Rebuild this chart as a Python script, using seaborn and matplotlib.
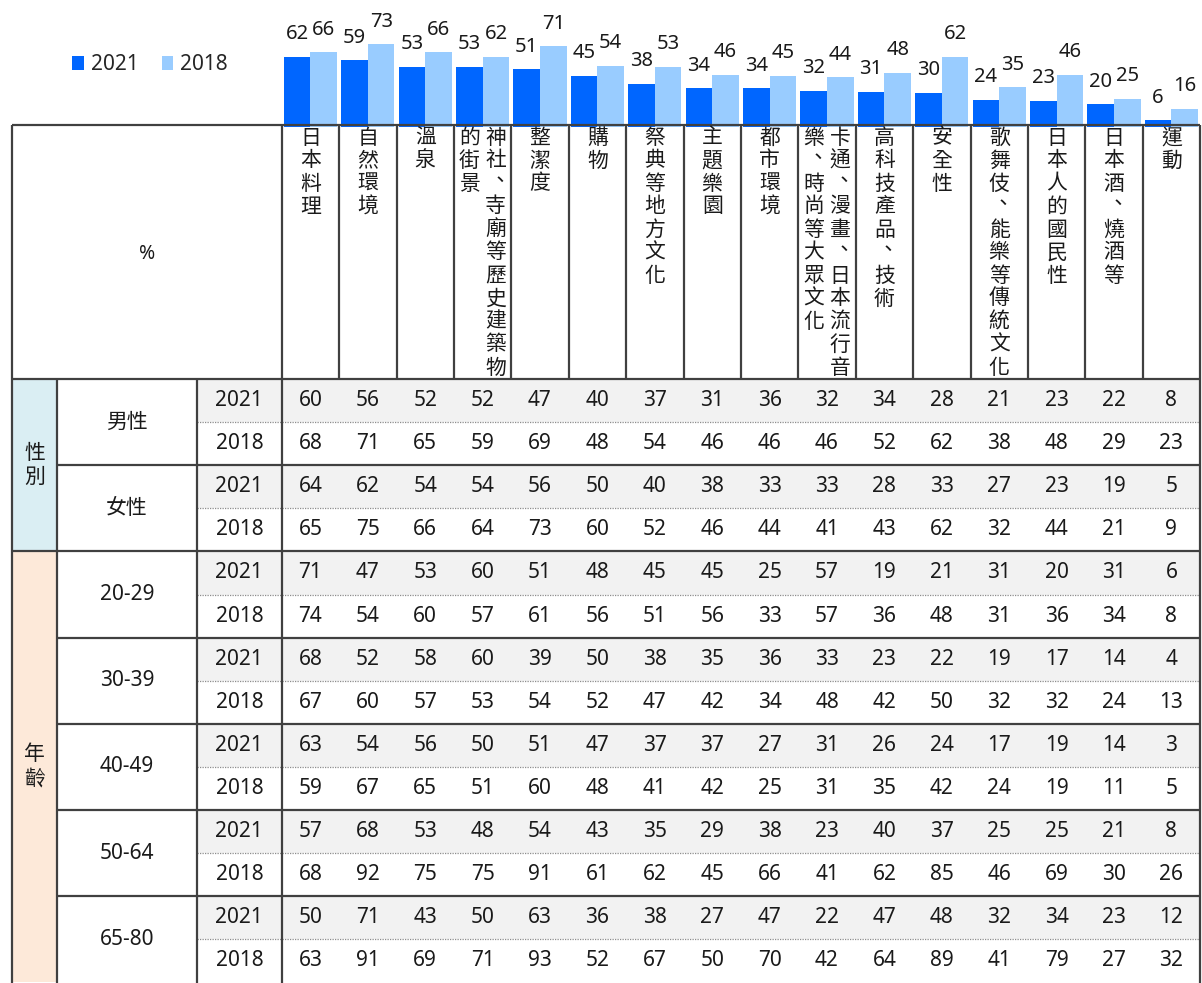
import numpy as np
import pandas as pd
import matplotlib.pyplot as plt
from matplotlib.colors import ListedColormap
from matplotlib.patches import Rectangle
import seaborn as sns

sns.set_style('white')
plt.rcParams['font.family'] = ['Noto Sans', 'Noto Sans CJK TC']
plt.rcParams['font.weight'] = 500

# items (overall %, top bar chart)
items = ['日本料理', '自然環境', '溫泉', '神社、寺廟等歷史建築物的街景', '整潔度', '購物',
         '祭典等地方文化', '主題樂園', '都市環境', '卡通、漫畫、日本流行音樂、時尚等大眾文化',
         '高科技產品、技術', '安全性', '歌舞伎、能樂等傳統文化', '日本人的國民性',
         '日本酒、燒酒等', '運動']
# the same headers as printed: vertical columns, first one on the right
header_lines = [['日本料理'], ['自然環境'], ['溫泉'], ['神社、寺廟等歷史建築物', '的街景'],
                ['整潔度'], ['購物'], ['祭典等地方文化'], ['主題樂園'], ['都市環境'],
                ['卡通、漫畫、日本流行音', '樂、時尚等大眾文化'], ['高科技產品、技術'], ['安全性'],
                ['歌舞伎、能樂等傳統文化'], ['日本人的國民性'], ['日本酒、燒酒等'], ['運動']]
all_2021 = [62, 59, 53, 53, 51, 45, 38, 34, 34, 32, 31, 30, 24, 23, 20, 6]
all_2018 = [66, 73, 66, 62, 71, 54, 53, 46, 45, 44, 48, 62, 35, 46, 25, 16]

sections = ['性別', '年齡']
section_sizes = [2, 5]
groups = ['男性', '女性', '20-29', '30-39', '40-49', '50-64', '65-80']
years = ['2021', '2018']

male_2021 = [60, 56, 52, 52, 47, 40, 37, 31, 36, 32, 34, 28, 21, 23, 22, 8]
male_2018 = [68, 71, 65, 59, 69, 48, 54, 46, 46, 46, 52, 62, 38, 48, 29, 23]
female_2021 = [64, 62, 54, 54, 56, 50, 40, 38, 33, 33, 28, 33, 27, 23, 19, 5]
female_2018 = [65, 75, 66, 64, 73, 60, 52, 46, 44, 41, 43, 62, 32, 44, 21, 9]
age20_2021 = [71, 47, 53, 60, 51, 48, 45, 45, 25, 57, 19, 21, 31, 20, 31, 6]
age20_2018 = [74, 54, 60, 57, 61, 56, 51, 56, 33, 57, 36, 48, 31, 36, 34, 8]
age30_2021 = [68, 52, 58, 60, 39, 50, 38, 35, 36, 33, 23, 22, 19, 17, 14, 4]
age30_2018 = [67, 60, 57, 53, 54, 52, 47, 42, 34, 48, 42, 50, 32, 32, 24, 13]
age40_2021 = [63, 54, 56, 50, 51, 47, 37, 37, 27, 31, 26, 24, 17, 19, 14, 3]
age40_2018 = [59, 67, 65, 51, 60, 48, 41, 42, 25, 31, 35, 42, 24, 19, 11, 5]
age50_2021 = [57, 68, 53, 48, 54, 43, 35, 29, 38, 23, 40, 37, 25, 25, 21, 8]
age50_2018 = [68, 92, 75, 75, 91, 61, 62, 45, 66, 41, 62, 85, 46, 69, 30, 26]
age65_2021 = [50, 71, 43, 50, 63, 36, 38, 27, 47, 22, 47, 48, 32, 34, 23, 12]
age65_2018 = [63, 91, 69, 71, 93, 52, 67, 50, 70, 42, 64, 89, 41, 79, 27, 32]

table_rows = [male_2021, male_2018, female_2021, female_2018,
              age20_2021, age20_2018, age30_2021, age30_2018, age40_2021, age40_2018,
              age50_2021, age50_2018, age65_2021, age65_2018]

blue = '#0066FF'
light_blue = '#99CCFF'
grey_row = '#F2F2F2'
line_c = '#404040'
text_c = '#1a1a1a'

# layout in pixels
W, H = 1202, 983
col0, colw = 281.7, 57.4
row0, rowh = 379.0, 43.1
base = 127.0
head_top = 124.5
x_sec, x_grp, x_year = 12, 57, 197
right = col0 + len(items) * colw
bottom = row0 + len(table_rows) * rowh

fig = plt.figure(figsize=(W / 100, H / 100), dpi=100)


def px_axes(x0, y0, x1, y1):
    return fig.add_axes([x0 / W, 1 - y1 / H, (x1 - x0) / W, (y1 - y0) / H])


# table body: grey 2021 rows, white 2018 rows, numbers as annotations
ax_tab = px_axes(col0, row0, right, bottom)
row_years = years * len(groups)
shade = np.array([[years.index(y)] * len(items) for y in row_years])
sns.heatmap(shade, cmap=ListedColormap([grey_row, '#FFFFFF']), vmin=0, vmax=1,
            annot=np.array(table_rows), fmt='d', cbar=False,
            xticklabels=False, yticklabels=False,
            annot_kws={'fontsize': 15, 'color': text_c}, ax=ax_tab)

# bar chart on top of the header
ax_bar = px_axes(col0, 0, right, base)
bar_df = pd.DataFrame({'item': items * 2,
                       'pct': all_2021 + all_2018,
                       'year': [years[0]] * len(items) + [years[1]] * len(items)})
sns.barplot(data=bar_df, x='item', y='pct', hue='year', hue_order=years,
            palette=[blue, light_blue], saturation=1, width=0.93,
            errorbar=None, linewidth=0, ax=ax_bar)
for cont in ax_bar.containers:
    ax_bar.bar_label(cont, padding=9, fontsize=14.5, color=text_c)
ax_bar.set_xlim(-0.5, len(items) - 0.5)
ax_bar.set_ylim(0, base / 1.135)
ax_bar.axis('off')
sns.move_legend(ax_bar, 'center', bbox_to_anchor=(150 / W, 1 - 65 / H),
                bbox_transform=fig.transFigure, ncol=2, frameon=False, title=None,
                fontsize=15, handlelength=0.55, handleheight=0.65,
                handletextpad=0.35, columnspacing=1.1)

# overlay in pixel coordinates for the frame, labels and header
ax = fig.add_axes([0, 0, 1, 1])
ax.set_xlim(0, W)
ax.set_ylim(H, 0)
ax.axis('off')

sec_edges = row0 + np.cumsum([0] + [2 * n for n in section_sizes]) * rowh
for sec, top_, bot_, col in zip(sections, sec_edges[:-1], sec_edges[1:], ['#DAEEF3', '#FDE9D9']):
    ax.add_patch(Rectangle((x_sec, top_), x_grp - x_sec, bot_ - top_, fc=col, ec='none'))
    yc = (top_ + bot_) / 2
    for j, ch in enumerate(sec):
        ax.text((x_sec + x_grp) / 2, yc + (j - (len(sec) - 1) / 2) * 24, ch,
                ha='center', va='center', fontsize=15, color=text_c)

for r, yr in enumerate(row_years):
    if yr == years[0]:
        ax.add_patch(Rectangle((x_year, row0 + r * rowh), col0 - x_year, rowh,
                               fc=grey_row, ec='none'))
    ax.text((x_year + col0) / 2, row0 + (r + 0.5) * rowh, yr,
            ha='center', va='center', fontsize=15, color=text_c)

for g, name in enumerate(groups):
    ax.text((x_grp + x_year) / 2, row0 + (2 * g + 1) * rowh, name,
            ha='center', va='center', fontsize=15, color=text_c)

ax.text((x_sec + col0) / 2, 254, '%', ha='center', va='center', fontsize=14, color=text_c)

# vertical header text, clipped to the header row
clip = Rectangle((col0, head_top), right - col0, row0 - head_top, transform=ax.transData)
for i, lines in enumerate(header_lines):
    cx = col0 + (i + 0.5) * colw
    offs = [0] if len(lines) == 1 else [13, -13]
    for line, dx in zip(lines, offs):
        for j, ch in enumerate(line):
            px = cx + dx + (4 if ch == '、' else 0)
            py = 138 + j * 23 - (3 if ch == '、' else 0)
            t = ax.text(px, py, ch, ha='center', va='center', fontsize=15, color=text_c)
            t.set_clip_path(clip)

# grid lines
lk = dict(color=line_c, lw=1.6)
ax.hlines([head_top, row0], x_sec, right, **lk)
for k in range(2, 2 * len(groups), 2):
    ax.hlines(row0 + k * rowh, x_sec if k == 2 * section_sizes[0] else x_grp, right, **lk)
ax.hlines([row0 + (2 * g + 1) * rowh for g in range(len(groups))], x_year, right,
          color='#8c8c8c', lw=0.9, linestyles=(0, (1, 1)))
ax.vlines([x_sec, col0, right], head_top, H, **lk)
ax.vlines([x_grp, x_year], row0, H, **lk)
ax.vlines([col0 + k * colw for k in range(1, len(items))], head_top, row0, **lk)

fig.savefig('out.png', dpi=100)
